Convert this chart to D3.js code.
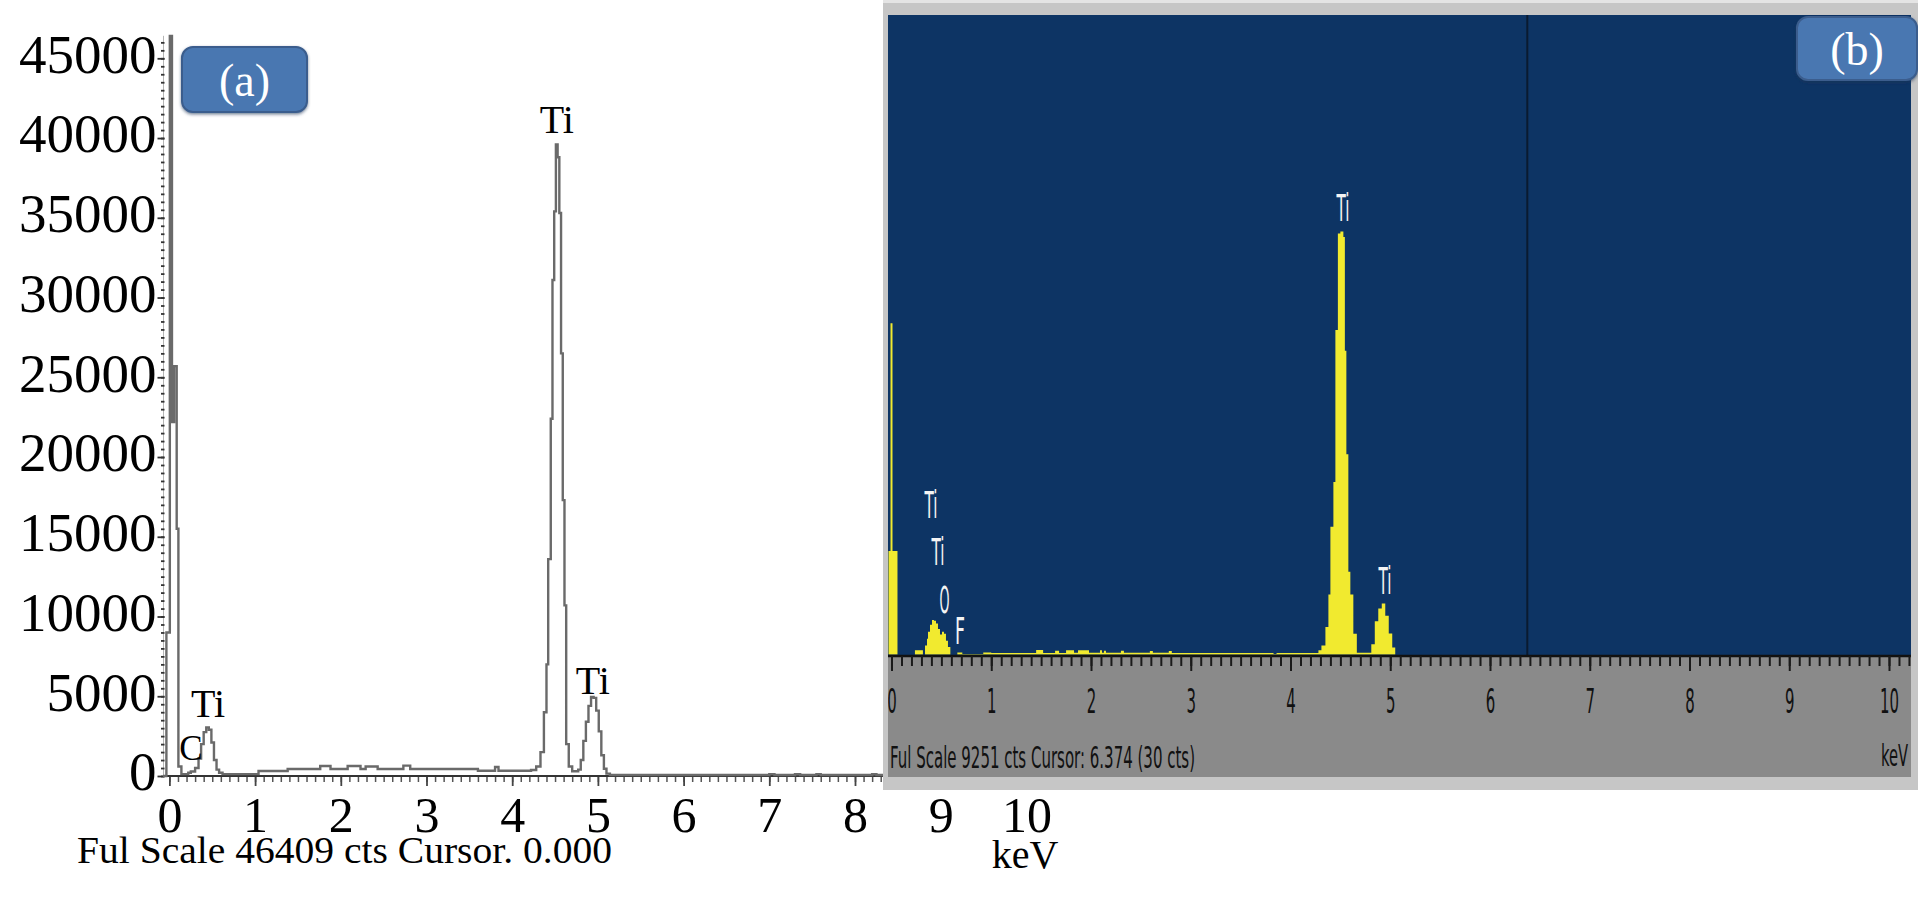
<!DOCTYPE html>
<html><head><meta charset="utf-8">
<script src="https://cdn.jsdelivr.net/npm/d3@7"></script>
<style>body{margin:0;background:#fff}svg{display:block}</style>
</head><body>
<svg id="c" width="1918" height="900"></svg>
<script>
// ---------- Panel (a) data ----------
const aKeV = [-0.075,-0.035,0.005,0.03,0.055,0.085,0.105,0.14,0.22,0.25,0.30,0.34,0.37,0.40,0.43,0.46,0.49,0.52,0.55,0.58,0.62,
  1.04,1.38,1.76,1.88,2.08,2.23,2.29,2.43,2.73,2.81,3.60,3.80,3.84,4.22,4.28,4.33,4.37,4.40,4.42,4.45,4.47,4.49,4.51,4.53,4.55,
  4.57,4.59,4.61,4.63,4.66,4.70,4.77,4.80,4.83,4.86,4.89,4.92,4.95,4.98,5.01,5.04,5.07,5.10,5.14,7.00,7.06,7.30,7.36,7.55,7.60,8.20,8.25,8.60];
const aCts = [0,9000,46409,22200,25700,15500,600,120,200,280,500,1100,2000,2750,3050,2900,2100,1000,400,200,120,
  310,440,630,440,630,440,600,440,650,440,330,560,330,380,600,1500,4000,7000,13600,22400,31100,35400,39600,38800,35300,
  26500,17300,10700,2000,600,300,400,1000,2200,3400,4400,4950,4900,4100,2800,1300,450,150,60,120,60,110,60,120,60,110,60,60];
const aYTicks = [0,5000,10000,15000,20000,25000,30000,35000,40000,45000];
const aXTicks = [0,1,2,3,4,5,6,7,8,9,10];
const aLabelText = ["Ti","Ti","Ti","C"];
const aLabelKeV  = [4.52, 4.94, 0.45, 0.25];
const aLabelCts  = [40300, 5150, 3700, 1000];
const aFooter = "Ful Scale 46409 cts Cursor. 0.000";

// ---------- Panel (b) data ----------
const bKeV = [-0.03,-0.01,0.01,0.06,0.235,0.315,0.336,0.356,0.366,0.386,0.406,0.426,0.446,0.466,0.486,0.506,0.526,0.546,0.566,0.59,
  0.66,0.71,0.92,1.00,1.45,1.52,1.64,1.68,1.75,1.83,1.87,1.98,2.09,2.11,2.13,2.15,2.30,2.33,2.59,2.62,2.78,2.81,3.83,3.86,
  4.28,4.31,4.35,4.38,4.40,4.43,4.45,4.475,4.50,4.53,4.545,4.56,4.58,4.60,4.63,4.665,4.81,4.845,4.88,4.915,4.95,4.985,5.02,5.05,10.2];
const bCts = [1500,4800,1500,0,60,0,130,230,330,430,500,490,450,370,290,330,300,200,110,0,
  30,8,30,22,65,22,55,22,60,25,60,25,60,25,55,25,55,25,50,25,50,22,8,22,
  60,130,400,870,1850,2500,4700,6100,6130,6050,4400,2900,1200,870,300,25,150,480,665,740,560,305,100,0,0];
const bXTicks = [0,1,2,3,4,5,6,7,8,9,10];
const bLabelText = ["Ti","Ti","Ti","O","F","Ti"];
const bLabelKeV  = [4.526, 0.396, 0.466, 0.531, 0.687, 4.947];
const bLabelCts  = [6281, 1978, 1297, 601, 152, 877];
const bCursor = 6.374;
const bFooter = "Ful Scale 9251 cts Cursor: 6.374  (30 cts)";

const svg = d3.select('#c');
const serif = "'Liberation Serif','Times New Roman',serif";
const narrow = "'Liberation Sans Narrow','DejaVu Sans Condensed','Liberation Sans',sans-serif";

const defs = svg.append('defs');
const f = defs.append('filter').attr('id','sh').attr('x','-20%').attr('y','-20%').attr('width','140%').attr('height','140%');
f.append('feDropShadow').attr('dx',0).attr('dy',1.5).attr('stdDeviation',1.5).attr('flood-color','#1e3555').attr('flood-opacity',0.6);

// ================= Panel (a) =================
const xA = d3.scaleLinear().domain([0,10]).range([169.4,1026.4]);
const yA = d3.scaleLinear().domain([0,45000]).range([776,58.3]);
const gA = svg.append('g');

gA.append('line').attr('x1',163.5).attr('x2',163.5).attr('y1',yA(46409)).attr('y2',776).attr('stroke','#b5b5b5').attr('stroke-width',1);
const yMinor = gA.append('g').attr('transform','translate(164.5,0)')
  .call(d3.axisLeft(yA).tickValues(d3.range(0,46001,500)).tickSize(3.5).tickFormat(''));
yMinor.select('.domain').remove();
yMinor.selectAll('text').remove();
yMinor.selectAll('line').attr('stroke','#333').attr('stroke-width',1.8);
const yMajor = gA.append('g').attr('transform','translate(164.5,0)')
  .call(d3.axisLeft(yA).tickValues(aYTicks).tickSize(7).tickPadding(1).tickFormat(d3.format('d')));
yMajor.select('.domain').remove();
yMajor.selectAll('line').attr('stroke','#333').attr('stroke-width',1.8);
yMajor.selectAll('text').attr('font-family',serif).attr('font-size',55).attr('fill','#000').attr('dy','0.25em');

gA.append('line').attr('x1',163).attr('x2',1000).attr('y1',776).attr('y2',776).attr('stroke','#333').attr('stroke-width',2);
const xMinor = gA.append('g').attr('transform','translate(0,777)')
  .call(d3.axisBottom(xA).tickValues(d3.range(0,85).map(i=>i/10)).tickSize(5).tickFormat(''));
xMinor.select('.domain').remove();
xMinor.selectAll('text').remove();
xMinor.selectAll('line').attr('stroke','#555').attr('stroke-width',1.5);
const xMajor = gA.append('g').attr('transform','translate(0,777)')
  .call(d3.axisBottom(xA).tickValues(aXTicks).tickSize(9).tickPadding(10).tickFormat(d3.format('d')));
xMajor.select('.domain').remove();
xMajor.selectAll('line').attr('stroke','#444').attr('stroke-width',1.8);
xMajor.selectAll('text').attr('font-family',serif).attr('font-size',50).attr('fill','#000');

const lineA = d3.line().x((d,i)=>xA(aKeV[i])).y((d,i)=>yA(aCts[i])).curve(d3.curveStepAfter);
gA.append('path').attr('d',lineA(aKeV)).attr('fill','none').attr('stroke','#6a6a6a').attr('stroke-width',2.4);

gA.selectAll('text.pl').data(aLabelText).join('text').attr('class','pl')
  .attr('x',(d,i)=>xA(aLabelKeV[i])).attr('y',(d,i)=>yA(aLabelCts[i]))
  .attr('text-anchor','middle').attr('font-family',serif).attr('font-size',(d,i)=>i===3?35:40).attr('fill','#000').text(d=>d);

gA.append('text').attr('x',77).attr('y',863).attr('font-family',serif).attr('font-size',38)
  .attr('textLength',535).attr('lengthAdjust','spacingAndGlyphs').text(aFooter);

gA.append('rect').attr('x',182).attr('y',47).attr('width',125).attr('height',65).attr('rx',11)
  .attr('fill','#4a77b1').attr('stroke','#3a5d8d').attr('stroke-width',2).attr('filter','url(#sh)');
gA.append('text').attr('x',244.5).attr('y',96).attr('text-anchor','middle').attr('font-family',serif)
  .attr('font-size',46).attr('fill','#fff').text('(a)');

// ================= Panel (b) =================
const xB = d3.scaleLinear().domain([0,10]).range([891.5,1889]);
const yB = d3.scaleLinear().domain([0,9251]).range([654.5,16]);
const gB = svg.append('g');

gB.append('rect').attr('x',883).attr('y',0).attr('width',1035).attr('height',790).attr('fill','#c6c6c6');
gB.append('rect').attr('x',883).attr('y',0).attr('width',1035).attr('height',3).attr('fill','#e4e4e4');
gB.append('rect').attr('x',888).attr('y',15).attr('width',1023).attr('height',641).attr('fill','#0d3464');
gB.append('rect').attr('x',888).attr('y',656).attr('width',1023).attr('height',121).attr('fill','#8a8a8a');

defs.append('clipPath').attr('id','clipB').append('rect').attr('x',888).attr('y',15).attr('width',1023).attr('height',762);

const inner = gB.append('g').attr('clip-path','url(#clipB)');
inner.append('line').attr('x1',xB(bCursor)).attr('x2',xB(bCursor)).attr('y1',15).attr('y2',656)
  .attr('stroke','#0a1a30').attr('stroke-width',2);
const areaB = d3.area().x((d,i)=>xB(bKeV[i])).y0(yB(0)).y1((d,i)=>yB(bCts[i])).curve(d3.curveStepAfter);
inner.append('path').attr('d',areaB(bKeV)).attr('fill','#f1ea2f');
inner.append('line').attr('x1',888).attr('x2',1911).attr('y1',656).attr('y2',656).attr('stroke','#111').attr('stroke-width',2.5);
const bMinor = inner.append('g').attr('transform','translate(0,656)')
  .call(d3.axisBottom(xB).tickValues(d3.range(0,103).map(i=>i/10)).tickSize(10).tickFormat(''));
bMinor.select('.domain').remove();
bMinor.selectAll('text').remove();
bMinor.selectAll('line').attr('stroke','#1a1a1a').attr('stroke-width',2);
const bMajor = inner.append('g').attr('transform','translate(0,656)')
  .call(d3.axisBottom(xB).tickValues(bXTicks).tickSize(15).tickPadding(19).tickFormat(d3.format('d')));
bMajor.select('.domain').remove();
bMajor.selectAll('line').attr('stroke','#1a1a1a').attr('stroke-width',2);
bMajor.selectAll('text').attr('font-family',narrow).attr('font-size',33).attr('fill','#111')
  .attr('textLength',d=>String(d).length*9.5).attr('lengthAdjust','spacingAndGlyphs');

inner.append('text').attr('x',890).attr('y',768).attr('font-family',narrow).attr('font-size',31).attr('fill','#111')
  .attr('textLength',305).attr('lengthAdjust','spacingAndGlyphs').text(bFooter);
gB.append('text').attr('x',1908).attr('y',766).attr('text-anchor','end').attr('font-family',narrow).attr('font-size',31)
  .attr('fill','#111').attr('textLength',27).attr('lengthAdjust','spacingAndGlyphs').text('keV');

inner.selectAll('text.bl').data(bLabelText).join('text').attr('class','bl')
  .attr('x',(d,i)=>xB(bLabelKeV[i])).attr('y',(d,i)=>yB(bLabelCts[i]))
  .attr('text-anchor','middle').attr('font-family',narrow).attr('font-size',37).attr('fill','#f4f4f4')
  .attr('textLength',d=>d==='Ti'?13:10).attr('lengthAdjust','spacingAndGlyphs').text(d=>d);

gB.append('rect').attr('x',1797).attr('y',17).attr('width',120).attr('height',63).attr('rx',11)
  .attr('fill','#4a77b1').attr('stroke','#3a5d8d').attr('stroke-width',2).attr('filter','url(#sh)');
gB.append('text').attr('x',1857).attr('y',65).attr('text-anchor','middle').attr('font-family',serif)
  .attr('font-size',46).attr('fill','#fff').text('(b)');

// keV unit of panel (a), under panel (b)
svg.append('text').attr('x',1025).attr('y',868).attr('text-anchor','middle').attr('font-family',serif)
  .attr('font-size',40).attr('fill','#000').text('keV');
</script></body></html>
